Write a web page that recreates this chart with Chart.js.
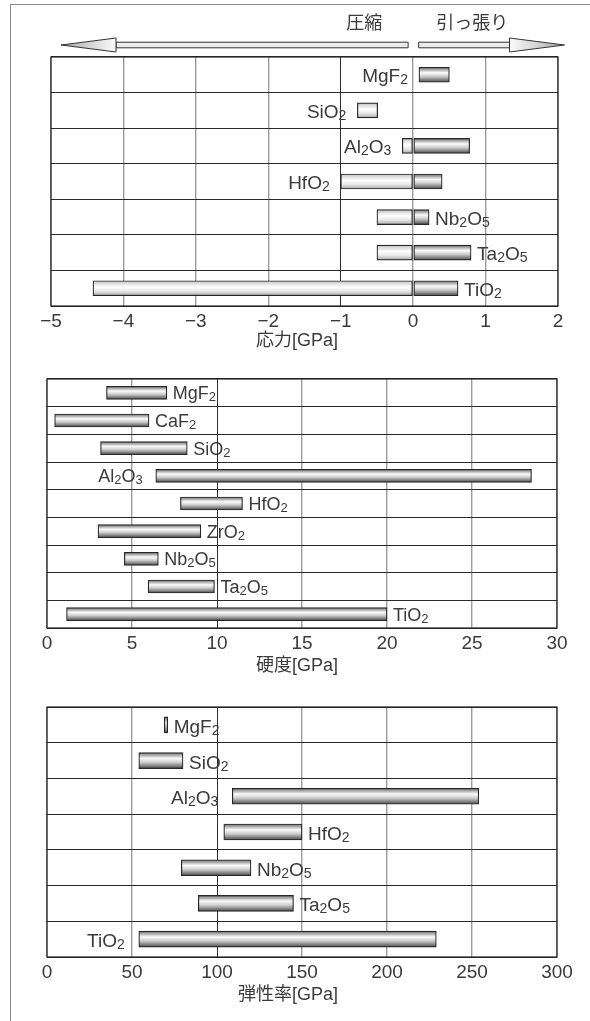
<!DOCTYPE html>
<html lang="ja">
<head>
<meta charset="utf-8">
<title>薄膜材料の応力・硬度・弾性率</title>
<script src="https://cdn.jsdelivr.net/npm/chart.js@4.4.1/dist/chart.umd.min.js"></script>
<style>
  html, body { margin: 0; padding: 0; background: #fff; }
  body { width: 590px; height: 1021px; position: relative; overflow: hidden; }
  #frame { position: absolute; left: 10px; top: 4px; right: -4px; bottom: -4px;
           border-top: 1px solid #8c8c8c; border-left: 1px solid #8c8c8c; }
  canvas { position: absolute; left: 0; }
</style>
</head>
<body>
<div id="frame"></div>
<canvas id="stress" width="590" height="360" style="top:0px"></canvas>
<canvas id="hardness" width="590" height="330" style="top:360px"></canvas>
<canvas id="modulus" width="590" height="331" style="top:690px"></canvas>
<script>
// ---- data ----
const stressMaterials = ['MgF2', 'SiO2', 'Al2O3', 'HfO2', 'Nb2O5', 'Ta2O5', 'TiO2'];
const stressMin = [0.08, -0.77, -0.15, -1.00, -0.50, -0.50, -4.42];
const stressMax = [0.50, -0.49, 0.78, 0.40, 0.22, 0.80, 0.62];
const stressTicks = ['\u22125', '\u22124', '\u22123', '\u22122', '\u22121', '0', '1', '2'];
const stressSide = ['L', 'L', 'L', 'L', 'R', 'R', 'R'];

const hardnessMaterials = ['MgF2', 'CaF2', 'SiO2', 'Al2O3', 'HfO2', 'ZrO2', 'Nb2O5', 'Ta2O5', 'TiO2'];
const hardnessMin = [3.5, 0.45, 3.15, 6.4, 7.85, 3.0, 4.55, 5.95, 1.15];
const hardnessMax = [7.05, 6.0, 8.25, 28.5, 11.5, 9.05, 6.55, 9.85, 20.0];
const hardnessTicks = ['0', '5', '10', '15', '20', '25', '30'];
const hardnessSide = ['R', 'R', 'R', 'L', 'R', 'R', 'R', 'R', 'R'];

const modulusMaterials = ['MgF2', 'SiO2', 'Al2O3', 'HfO2', 'Nb2O5', 'Ta2O5', 'TiO2'];
const modulusMin = [69, 54, 109, 104, 79, 89, 54];
const modulusMax = [71, 80, 254, 150, 120, 145, 229];
const modulusTicks = ['0', '50', '100', '150', '200', '250', '300'];
const modulusSide = ['R', 'R', 'L', 'R', 'R', 'R', 'L'];

// ---- styling helpers ----
const FONT = '"Liberation Sans", "Noto Sans CJK JP", Arial, sans-serif';
const JP_FONT = '"Noto Sans CJK JP", sans-serif';
const INK = '#3a3a3a';
const DARK_STOPS = [[0, '#6a6a6a'], [0.36, '#fbfbfb'], [0.62, '#cacaca'], [1, '#494949']];
const LIGHT_STOPS = [[0, '#c2c2c2'], [0.42, '#ffffff'], [0.7, '#e6e6e6'], [1, '#a6a6a6']];

function cylinderFill(stops, thickness) {
  return (c) => {
    const chart = c.chart;
    if (!chart.chartArea || c.dataIndex === undefined) return '#ccc';
    const cy = chart.scales.y.getPixelForValue(c.dataIndex);
    const g = chart.ctx.createLinearGradient(0, cy - thickness / 2, 0, cy + thickness / 2);
    stops.forEach(([o, col]) => g.addColorStop(o, col));
    return g;
  };
}

// chemical formula with subscript digits
function drawFormula(ctx, text, x, baseline, align, size) {
  const sub = Math.round(size * 0.72);
  const runs = text.match(/[A-Za-z]+|\d+/g).map(p => {
    const isSub = /\d/.test(p);
    const font = `${isSub ? sub : size}px ${FONT}`;
    ctx.font = font;
    return { p, isSub, font, w: ctx.measureText(p).width };
  });
  const total = runs.reduce((s, r) => s + r.w, 0);
  let cx = align === 'right' ? x - total : x;
  runs.forEach(r => {
    ctx.font = r.font;
    ctx.fillText(r.p, cx, r.isSub ? baseline + 2 : baseline);
    cx += r.w;
  });
}

function makeChart(id, cfg) {
  const plugin = {
    id: 'panel_' + id,
    beforeDatasetsDraw(chart) {
      const a = chart.chartArea, ctx = chart.ctx;
      ctx.save();
      ctx.strokeStyle = '#222';
      ctx.lineWidth = 1.2;
      ctx.strokeRect(a.left, a.top, a.right - a.left, a.bottom - a.top);
      ctx.restore();
    },
    afterDatasetsDraw(chart) {
      const { ctx, scales: { x, y } } = chart;
      ctx.save();
      ctx.fillStyle = INK;
      ctx.textBaseline = 'alphabetic';
      ctx.textAlign = 'left';
      cfg.names.forEach((name, i) => {
        const base = y.getPixelForValue(i) + cfg.thickness / 2;
        if (cfg.sides[i] === 'L') {
          drawFormula(ctx, name, x.getPixelForValue(cfg.mins[i]) - cfg.gapL, base, 'right', cfg.labelSize);
        } else {
          drawFormula(ctx, name, x.getPixelForValue(cfg.maxs[i]) + cfg.gapR, base, 'left', cfg.labelSize);
        }
      });
      ctx.font = `18px ${FONT}`;
      ctx.textAlign = 'right';
      ctx.textBaseline = 'middle';
      ctx.fillText(cfg.title, cfg.titleRight, chart.chartArea.bottom + cfg.titleOffset);
      ctx.restore();
      if (cfg.extra) cfg.extra(chart);
    }
  };

  return new Chart(document.getElementById(id), {
    type: 'bar',
    data: { labels: cfg.names, datasets: cfg.datasets },
    options: {
      responsive: false,
      animation: false,
      indexAxis: 'y',
      layout: { padding: cfg.padding },
      plugins: { legend: { display: false }, tooltip: { enabled: false } },
      scales: {
        x: {
          type: 'linear',
          min: cfg.min, max: cfg.max,
          ticks: {
            stepSize: cfg.step,
            color: INK,
            padding: 4,
            font: { family: FONT, size: 19 },
            maxRotation: 0,
            autoSkip: false,
            callback: (v, i) => cfg.ticks[i]
          },
          grid: {
            drawTicks: false,
            color: c => (c.tick && c.tick.value === cfg.darkTick) ? '#2e2e2e' : '#9c9c9c',
            lineWidth: c => (c.tick && c.tick.value === cfg.darkTick) ? 1 : 1.4
          },
          border: { display: false },
          afterFit: s => { s.height = cfg.axisHeight; }
        },
        y: {
          type: 'category',
          ticks: { display: false },
          grid: { drawTicks: false, color: '#2a2a2a', lineWidth: 1 },
          border: { display: false },
          afterFit: s => { s.width = 0; }
        }
      }
    },
    plugins: [plugin]
  });
}

function barSet(data, stops, thickness) {
  return {
    data,
    grouped: false,
    barThickness: thickness,
    backgroundColor: cylinderFill(stops, thickness),
    borderColor: '#262626',
    borderWidth: 1.2,
    borderSkipped: false
  };
}

// ---- stress: compressive (negative) and tensile (positive) parts ----
const stressCompressive = stressMin.map((lo, i) => lo < 0 ? [lo, Math.min(stressMax[i], 0)] : null);
const stressTensile = stressMax.map((hi, i) => hi > 0 ? [Math.max(stressMin[i], 0), hi] : null);

function drawArrow(ctx, from, tip, yc) {
  const dir = Math.sign(tip - from);
  const base = tip - dir * 55;
  ctx.save();
  ctx.strokeStyle = '#333';
  ctx.lineWidth = 1;
  // shaft
  ctx.fillStyle = '#ececec';
  ctx.beginPath();
  ctx.rect(Math.min(from, base), yc - 2.8, Math.abs(base - from), 5.6);
  ctx.fill();
  ctx.stroke();
  // head
  const g = ctx.createLinearGradient(tip, 0, base, 0);
  g.addColorStop(0, '#a8a8a8');
  g.addColorStop(1, '#fbfbfb');
  ctx.fillStyle = g;
  ctx.beginPath();
  ctx.moveTo(tip, yc);
  ctx.lineTo(base, yc - 7);
  ctx.lineTo(base, yc + 7);
  ctx.closePath();
  ctx.fill();
  ctx.stroke();
  ctx.restore();
}

makeChart('stress', {
  names: stressMaterials, mins: stressMin, maxs: stressMax, sides: stressSide,
  ticks: stressTicks, min: -5, max: 2, step: 1, darkTick: -1,
  thickness: 15, labelSize: 19, gapL: 11, gapR: 6,
  padding: { top: 57, left: 51, right: 32, bottom: 0 }, axisHeight: 54,
  title: '応力[GPa]', titleRight: 338, titleOffset: 35.5,
  datasets: [barSet(stressCompressive, LIGHT_STOPS, 15), barSet(stressTensile, DARK_STOPS, 15)],
  extra(chart) {
    const { ctx, chartArea: a, scales: { x } } = chart;
    const zero = x.getPixelForValue(0);
    const yc = a.top - 12;
    drawArrow(ctx, zero - 5, a.left + 10, yc);
    drawArrow(ctx, zero + 5.5, a.right + 6.5, yc);
    ctx.save();
    ctx.fillStyle = INK;
    ctx.font = `18px ${JP_FONT}`;
    ctx.textBaseline = 'middle';
    ctx.textAlign = 'right';
    ctx.fillText('圧縮', zero - 31, 22);
    ctx.textAlign = 'left';
    ctx.fillText('引っ張り', zero + 23, 22);
    ctx.restore();
  }
});

makeChart('hardness', {
  names: hardnessMaterials, mins: hardnessMin, maxs: hardnessMax, sides: hardnessSide,
  ticks: hardnessTicks, min: 0, max: 30, step: 5, darkTick: 10,
  thickness: 13, labelSize: 18, gapL: 13, gapR: 6,
  padding: { top: 19, left: 47, right: 33, bottom: 0 }, axisHeight: 62,
  title: '硬度[GPa]', titleRight: 338, titleOffset: 38.5,
  datasets: [barSet(hardnessMin.map((lo, i) => [lo, hardnessMax[i]]), DARK_STOPS, 13)]
});

makeChart('modulus', {
  names: modulusMaterials, mins: modulusMin, maxs: modulusMax, sides: modulusSide,
  ticks: modulusTicks, min: 0, max: 300, step: 50, darkTick: 100,
  thickness: 16, labelSize: 19, gapL: 14, gapR: 6,
  padding: { top: 17, left: 47, right: 33, bottom: 0 }, axisHeight: 64,
  title: '弾性率[GPa]', titleRight: 338, titleOffset: 38,
  datasets: [barSet(modulusMin.map((lo, i) => [lo, modulusMax[i]]), DARK_STOPS, 16)]
});
</script>
</body>
</html>
